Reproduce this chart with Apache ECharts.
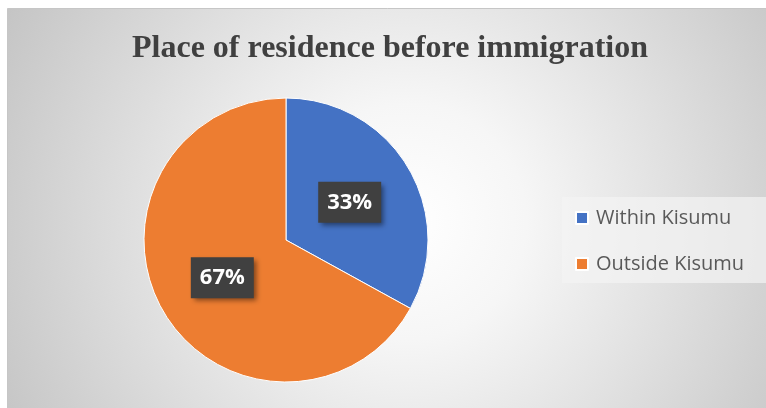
<!DOCTYPE html>
<html>
<head>
<meta charset="utf-8">
<script src="https://cdn.jsdelivr.net/npm/echarts@6/dist/echarts.min.js"></script>
<style>
html,body{margin:0;padding:0;background:#ffffff;}
#chart{width:766px;height:408px;}
</style>
</head>
<body>
<div id="chart"></div>
<script>
const titleText = "Place of residence before immigration";
const categories = ["Within Kisumu", "Outside Kisumu"];
const values = [33, 67];
const colors = ["#4472C4", "#ED7D31"];

const chart = echarts.init(document.getElementById('chart'), null, {renderer: 'canvas'});
const data = categories.map((c, i) => ({name: c, value: values[i], itemStyle: {color: colors[i]}}));

chart.setOption({
  animation: false,
  backgroundColor: '#ffffff',
  graphic: [{
    type: 'rect',
    z: -10,
    silent: true,
    shape: {x: 7.5, y: 8.5, width: 770, height: 410},
    style: {
      fill: {
        type: 'radial', x: 0.52, y: 0.52, r: 1.15,
        colorStops: [
          {offset: 0, color: '#ffffff'},
          {offset: 0.25, color: '#f6f6f6'},
          {offset: 1, color: '#c2c2c2'}
        ]
      },
      stroke: '#c6c6c6',
      lineWidth: 1
    }
  }],
  title: {
    text: titleText,
    left: 127,
    top: 28,
    textStyle: {
      fontFamily: 'Liberation Serif',
      fontWeight: 'bold',
      fontSize: 32,
      color: '#404040'
    }
  },
  legend: {
    orient: 'vertical',
    left: 562,
    top: 197,
    itemWidth: 12,
    itemHeight: 12,
    itemGap: 26,
    icon: 'rect',
    padding: [11, 25, 9, 13],
    backgroundColor: 'rgba(243,243,243,0.7)',
    textStyle: {fontFamily: 'Open Sans', fontSize: 20, color: '#595959', padding: [0, 0, 0, 3]},
    data: categories
  },
  series: [{
    type: 'pie',
    center: [286, 240],
    radius: [0, 142],
    startAngle: 90,
    clockwise: true,
    data: data,
    itemStyle: {borderColor: '#ffffff', borderWidth: 1},
    label: {
      show: true,
      position: 'inside',
      formatter: '{d}%',
      fontFamily: 'Open Sans',
      fontWeight: 'bold',
      fontSize: 22,
      color: '#ffffff',
      backgroundColor: '#404040',
      padding: [10, 9, 9, 9],
      shadowColor: 'rgba(0,0,0,0.45)',
      shadowBlur: 5,
      shadowOffsetX: 3,
      shadowOffsetY: 3
    },
    labelLine: {show: false},
    emphasis: {disabled: true}
  }]
});
</script>
</body>
</html>
